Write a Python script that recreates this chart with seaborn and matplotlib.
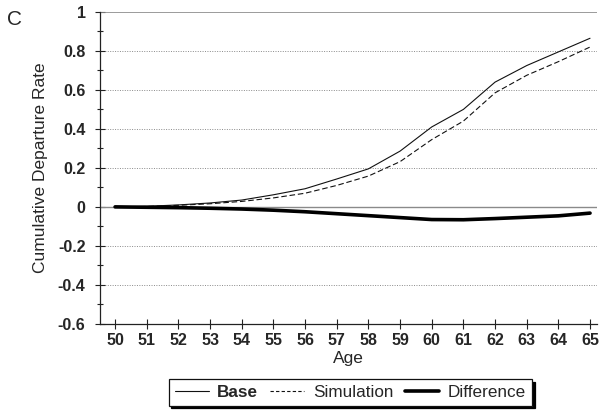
import numpy as np
import pandas as pd
import matplotlib
matplotlib.use("Agg")
import matplotlib.pyplot as plt
from matplotlib.ticker import MultipleLocator
from matplotlib.lines import Line2D
import seaborn as sns

ages = [50, 51, 52, 53, 54, 55, 56, 57, 58, 59, 60, 61, 62, 63, 64, 65]
base = [0.0, 0.003, 0.01, 0.02, 0.035, 0.062, 0.093, 0.143, 0.195, 0.286, 0.41, 0.50, 0.64, 0.725, 0.795, 0.865]
simulation = [0.0, 0.002, 0.008, 0.016, 0.028, 0.046, 0.07, 0.11, 0.158, 0.232, 0.345, 0.44, 0.585, 0.675, 0.745, 0.82]
difference = [0.0, -0.002, -0.004, -0.007, -0.011, -0.017, -0.025, -0.035, -0.045, -0.055, -0.065, -0.066, -0.06, -0.053, -0.046, -0.032]

series_names = ["Base", "Simulation", "Difference"]
y_ticks = [-0.6, -0.4, -0.2, 0, 0.2, 0.4, 0.6, 0.8, 1]
y_tick_labels = ["-0.6", "-0.4", "-0.2", "0", "0.2", "0.4", "0.6", "0.8", "1"]

df = pd.DataFrame({
    "Age": ages * 3,
    "Rate": base + simulation + difference,
    "Series": [s for s in series_names for _ in ages],
})

sns.set_style("white")
plt.rcParams["font.family"] = ["Liberation Sans", "DejaVu Sans"]

fig = plt.figure(figsize=(6, 4.12), dpi=100)
ax = fig.add_axes([0.167, 0.214, 0.828, 0.757])

# dotted horizontal gridlines and the zero reference line
for y in [-0.4, -0.2, 0.2, 0.4, 0.6, 0.8]:
    ax.axhline(y, color="#8a8a8a", lw=0.7, ls=(0, (1, 1.5)), zorder=0)
ax.axhline(0, color="#8a8a8a", lw=1.0, zorder=1)
ax.axhline(1, color="#8a8a8a", lw=1.2, zorder=1)

sns.lineplot(
    data=df, x="Age", y="Rate", hue="Series", style="Series",
    hue_order=series_names, style_order=series_names,
    palette={"Base": "#111111", "Simulation": "#111111", "Difference": "#000000"},
    dashes={"Base": "", "Simulation": (5, 2.5), "Difference": ""},
    size="Series", sizes={"Base": 0.8, "Simulation": 0.8, "Difference": 2.6},
    size_order=series_names,
    legend=False, ax=ax, zorder=3,
)

ax.set_xlim(49.53, 65.22)
ax.set_ylim(-0.6, 1.0)
ax.set_xticks(ages)
ax.set_xticklabels([str(a) for a in ages], fontweight="bold", fontsize=11.5)
ax.set_yticks(y_ticks)
ax.set_yticklabels(y_tick_labels, fontweight="bold", fontsize=11.5)
ax.yaxis.set_minor_locator(MultipleLocator(0.1))
ax.tick_params(axis="x", which="major", direction="inout", length=7, width=0.8, color="#222222", pad=3, bottom=True)
ax.tick_params(axis="y", which="major", direction="inout", length=7, width=0.8, color="#222222", pad=7, left=True)
ax.tick_params(axis="y", which="minor", direction="inout", length=4, width=0.8, color="#222222", left=True)

for side in ["top", "right"]:
    ax.spines[side].set_visible(False)
for side in ["left", "bottom"]:
    ax.spines[side].set_color("#222222")
    ax.spines[side].set_linewidth(0.9)

ax.set_xlabel("Age", fontsize=12.5, labelpad=2)
ax.set_ylabel("Cumulative Departure Rate", fontsize=12.5, labelpad=7)

fig.text(0.012, 0.952, "C", fontsize=15, fontweight="light", va="center", ha="left")

# legend with a drop-shadow frame
handles = [
    Line2D([], [], color="#111111", lw=0.8),
    Line2D([], [], color="#111111", lw=0.8, ls=(0, (3, 2))),
    Line2D([], [], color="#000000", lw=2.6),
]
leg = fig.legend(
    handles, series_names, loc="center", bbox_to_anchor=(0.584, 0.048),
    ncol=3, frameon=True, fancybox=False, shadow={"color": "#000000", "alpha": 1},
    handlelength=2.0, handletextpad=0.5, columnspacing=0.7,
    borderpad=0.35, prop={"weight": "bold", "size": 12.3},
)
leg.get_frame().set_edgecolor("#111111")
leg.get_frame().set_linewidth(0.9)
for t in leg.get_texts()[1:]:
    t.set_fontweight("normal")

fig.savefig("out.png", dpi=100)
